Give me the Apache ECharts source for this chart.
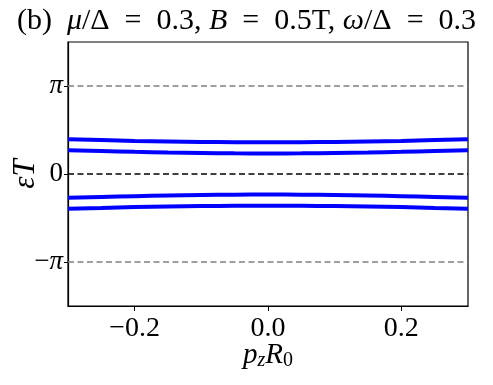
<!DOCTYPE html>
<html>
<head>
<meta charset="utf-8">
<script src="https://cdn.jsdelivr.net/npm/echarts@6/dist/echarts.min.js"></script>
<style>
  html, body { margin: 0; padding: 0; background: #fff; }
  #chart { width: 493px; height: 385px; }
</style>
</head>
<body>
<div id="chart"></div>
<script>
// p_z R_0 sample points
const pz = [-0.3, -0.25, -0.2, -0.15, -0.1, -0.05, 0, 0.05, 0.1, 0.15, 0.2, 0.25, 0.3]
// quasi-energy bands (eps*T)
const band1 = [1.24, 1.21, 1.18, 1.16, 1.145, 1.135, 1.13, 1.135, 1.145, 1.16, 1.18, 1.21, 1.24]
const band2 = [0.85, 0.82, 0.79, 0.765, 0.748, 0.737, 0.733, 0.737, 0.748, 0.765, 0.79, 0.82, 0.85]
const band3 = [-0.85, -0.82, -0.79, -0.765, -0.748, -0.737, -0.733, -0.737, -0.748, -0.765, -0.79, -0.82, -0.85]
const band4 = [-1.24, -1.21, -1.18, -1.16, -1.145, -1.135, -1.13, -1.135, -1.145, -1.16, -1.18, -1.21, -1.24]
const xTicks = [-0.2, 0, 0.2]
const yTicks = [-Math.PI, 0, Math.PI]

const serif = 'Liberation Serif'
const sp = '\u2002'
let myChart = echarts.init(document.getElementById('chart'))

function bandSeries (vals, withMarks) {
  let s = {
    type: 'line',
    data: pz.map((x, i) => [x, vals[i]]),
    smooth: true,
    showSymbol: false,
    lineStyle: { color: '#0000ff', width: 4 },
    z: 3
  }
  if (withMarks) {
    s.markLine = {
      silent: true,
      symbol: 'none',
      label: { show: false },
      data: [
        { yAxis: Math.PI, lineStyle: { color: '#808080', type: [6, 3.5], width: 1.5 } },
        { yAxis: 0, lineStyle: { color: '#000', type: [6, 3.5], width: 1.5 } },
        { yAxis: -Math.PI, lineStyle: { color: '#808080', type: [6, 3.5], width: 1.5 } }
      ]
    }
  }
  return s
}

let option = {
  animation: false,
  backgroundColor: '#fff',
  title: {
    left: 'center',
    top: 1,
    text: '(b)' + sp + '{i|μ}/Δ' + sp + '=' + sp + '0.3, {i|B}' + sp + '=' + sp + '0.5T, {i|ω}/Δ' + sp + '=' + sp + '0.3',
    textStyle: {
      fontFamily: serif,
      fontSize: 30,
      fontWeight: 'normal',
      color: '#000',
      rich: {
        i: { fontFamily: serif, fontSize: 30, fontStyle: 'italic', color: '#000' }
      }
    }
  },
  grid: {
    left: 68,
    right: 25,
    top: 42,
    bottom: 79,
    containLabel: false,
    outerBoundsMode: 'none',
    show: true,
    borderColor: '#000',
    borderWidth: 1.2
  },
  xAxis: {
    type: 'value',
    min: -0.3,
    max: 0.3,
    name: '{i|p}{s|z}{i|R}{t|0}',
    nameLocation: 'middle',
    nameGap: 33,
    nameMoveOverlap: false,
    nameTextStyle: {
      rich: {
        i: { fontFamily: serif, fontSize: 29, fontStyle: 'italic', color: '#000' },
        s: { fontFamily: serif, fontSize: 20, fontStyle: 'italic', color: '#000', padding: [12, 0, 0, 0] },
        t: { fontFamily: serif, fontSize: 20, color: '#000', padding: [12, 0, 0, 0] }
      }
    },
    axisLine: { onZero: false, lineStyle: { color: '#000', width: 1.2 } },
    axisTick: { customValues: xTicks, length: 5, lineStyle: { color: '#000' } },
    axisLabel: {
      customValues: xTicks,
      fontFamily: serif,
      fontSize: 28,
      color: '#000',
      margin: 9,
      formatter: v => (v < 0 ? '\u2212' : '') + Math.abs(v).toFixed(1)
    },
    splitLine: { show: false }
  },
  yAxis: {
    type: 'value',
    min: -1.5 * Math.PI,
    max: 1.5 * Math.PI,
    name: '{i|εT}',
    nameLocation: 'middle',
    nameGap: 27,
    nameRotate: 90,
    nameMoveOverlap: false,
    nameTextStyle: {
      rich: {
        i: { fontFamily: serif, fontSize: 31, fontStyle: 'italic', color: '#000' }
      }
    },
    axisLine: { show: true, onZero: false, lineStyle: { color: '#000', width: 1.2 } },
    axisTick: { show: true, customValues: yTicks, length: 4, lineStyle: { color: '#000' } },
    axisLabel: {
      customValues: yTicks,
      fontFamily: serif,
      fontSize: 27,
      color: '#000',
      margin: 5,
      formatter: v => {
        if (Math.abs(v) < 1e-9) return '0'
        return v > 0 ? '{i|π}' : '\u2212{i|π}'
      },
      rich: {
        i: { fontFamily: serif, fontSize: 27, fontStyle: 'italic', color: '#000' }
      }
    },
    splitLine: { show: false }
  },
  series: [
    bandSeries(band1, true),
    bandSeries(band2, false),
    bandSeries(band3, false),
    bandSeries(band4, false)
  ]
}
myChart.setOption(option)
</script>
</body>
</html>
